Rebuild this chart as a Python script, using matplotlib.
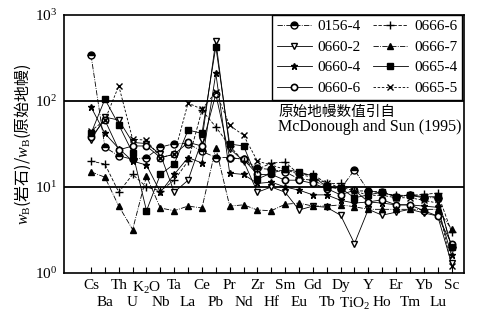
import matplotlib
matplotlib.use("Agg")
import matplotlib.pyplot as plt
import numpy as np

categories = ["Cs", "Ba", "Th", "U", "K$_2$O", "Nb", "Ta", "La", "Ce", "Pb", "Pr", "Nd",
              "Zr", "Hf", "Sm", "Eu", "Gd", "Tb", "Dy", "TiO$_2$", "Y", "Ho", "Er", "Tm",
              "Yb", "Lu", "Sc"]

s0156_4 = [340, 29, 23, 21, 22, 29, 32, 32, 26, 22, 22, 21, 16.5, 16, 15, 12.4, 12, 10, 9.5, 15.8, 9, 8.7, 7.7, 8, 7.5, 7.5, 2.0]
s0660_2 = [35, 65, 60, 33, 32, 24, 8.7, 12, 35, 500, 28, 20, 8.7, 10, 8.7, 5.4, 6, 5.8, 4.7, 2.2, 5.5, 4.7, 5.1, 5.5, 5.0, 4.6, 1.3]
s0660_4 = [85, 42, 28, 20, 18, 8.7, 14, 22, 19, 210, 14.5, 14, 11, 11.4, 10, 9.2, 8.1, 8.1, 7, 6.5, 6.7, 6.5, 6.2, 6.2, 6, 5.8, 1.6]
s0660_6 = [38, 60, 27, 30, 30, 22, 24, 33, 30, 120, 22, 21, 14, 14, 12, 12, 11, 9.6, 8.1, 9.2, 6.7, 7.1, 6.2, 6.2, 5.3, 4.6, 2.2]
s0666_6 = [20, 18.5, 8.7, 14, 10, 9, 12, 20, 78, 50, 30, 20, 16, 19, 19.5, 14, 14, 11, 11, 9, 9, 8.5, 8, 8, 8.2, 8.5, 3.0]
s0666_7 = [15, 13, 6, 3.2, 13.4, 5.7, 5.3, 6, 5.7, 28.5, 6, 6.2, 5.4, 5.3, 6.3, 6.5, 6, 6, 6.2, 5.9, 5.5, 5.5, 5.5, 5.5, 5.5, 5.5, 3.25]
s0665_4 = [42, 105, 53, 25, 5.3, 14, 18.5, 46, 42, 426, 31.6, 30, 12.4, 14.5, 16, 15, 13.4, 10, 9.7, 7.5, 8.1, 8.7, 7.7, 8.1, 7.7, 7.7, 2.0]
s0665_5 = [45, 60, 150, 36, 35, 22, 24, 95, 80, 127, 52, 40, 20, 18, 16, 14, 13, 11, 10, 9, 8, 8, 7.5, 7.5, 7, 6.5, 1.2]

series_names = ["0156-4", "0660-2", "0660-4", "0660-6", "0666-6", "0666-7", "0665-4", "0665-5"]

plt.rcParams['font.family'] = ['Liberation Serif', 'Noto Sans CJK SC']
plt.rcParams['mathtext.fontset'] = 'custom'
plt.rcParams['mathtext.rm'] = 'Liberation Serif'
plt.rcParams['mathtext.it'] = 'Liberation Serif:italic'

fig = plt.figure(figsize=(4.79, 3.22), dpi=100)
ax = fig.add_axes([64/479, 1-273/322, 400/479, 258/322])

x = np.arange(len(categories))
lw = 0.6
ms = 4.5
styles = {
    "0156-4": (s0156_4, dict(marker='o', fillstyle='top', markerfacecolor='black', markerfacecoloralt='white', markeredgecolor='black', linestyle='-.', markersize=ms+0.5)),
    "0660-2": (s0660_2, dict(marker='v', markerfacecolor='white', markeredgecolor='black', linestyle='-', markersize=ms)),
    "0660-4": (s0660_4, dict(marker='*', markerfacecolor='black', markeredgecolor='black', linestyle='-', markersize=ms+0.5)),
    "0660-6": (s0660_6, dict(marker='o', markerfacecolor='white', markeredgecolor='black', markeredgewidth=1.2, linestyle='-', markersize=ms)),
    "0666-6": (s0666_6, dict(marker='+', markeredgecolor='black', linestyle=(0, (4, 2)), markersize=ms+1)),
    "0666-7": (s0666_7, dict(marker='^', markerfacecolor='black', markeredgecolor='black', linestyle='-.', markersize=ms)),
    "0665-4": (s0665_4, dict(marker='s', markerfacecolor='black', markeredgecolor='black', linestyle='-', markersize=ms)),
    "0665-5": (s0665_5, dict(marker='x', markeredgecolor='black', linestyle=(0, (3, 2)), markersize=ms)),
}

handles = {}
for name, (vals, st) in styles.items():
    h, = ax.plot(x, vals, color='black', linewidth=lw, **st)
    handles[name] = h

ax.axhline(10, color='black', linewidth=1.3, zorder=1)
ax.axhline(100, color='black', linewidth=1.3, zorder=1)

ax.set_yscale('log')
ax.set_ylim(1, 1000)
ax.set_xlim(-1.95, 26.9)
ax.set_yticks([1, 10, 100, 1000])
ax.set_yticklabels(["10$^0$", "10$^1$", "10$^2$", "10$^3$"], fontsize=11)
ax.yaxis.set_minor_locator(matplotlib.ticker.NullLocator())
ax.tick_params(axis='y', length=0, pad=5)

ax.set_xticks(x)
ax.set_xticklabels([])
ax.tick_params(axis='x', direction='in', length=4, width=0.8)
for i, c in enumerate(categories):
    yoff = -0.025 if i % 2 == 0 else -0.09
    ax.text(i, yoff, c, transform=ax.get_xaxis_transform(), ha='center', va='top', fontsize=11)

for sp in ax.spines.values():
    sp.set_linewidth(1.2)

ax.set_ylabel(r"$w_{\mathrm{B}}$(岩石)/$w_{\mathrm{B}}$(原始地幔)", fontsize=11.5, labelpad=1,
              family='Noto Sans CJK SC')

leg = ax.legend([handles[n] for n in series_names], series_names, ncol=2,
                loc='upper right', bbox_to_anchor=(0.52, 0.67, 0.475, 0.33), mode='expand',
                borderaxespad=0, fancybox=False, edgecolor='black', framealpha=1,
                fontsize=11, handlelength=2.3, handletextpad=0.4, columnspacing=0.8,
                labelspacing=0.45, borderpad=0.3)
leg.get_frame().set_linewidth(1.0)

ax.text(0.535, 0.625, "原始地幔数值引自", transform=ax.transAxes, fontsize=10.5, va='center', ha='left',
        family='Noto Sans CJK SC')
ax.text(0.535, 0.565, "McDonough and Sun (1995)", transform=ax.transAxes, fontsize=11.5, va='center', ha='left')

fig.savefig("out.png", dpi=100)
